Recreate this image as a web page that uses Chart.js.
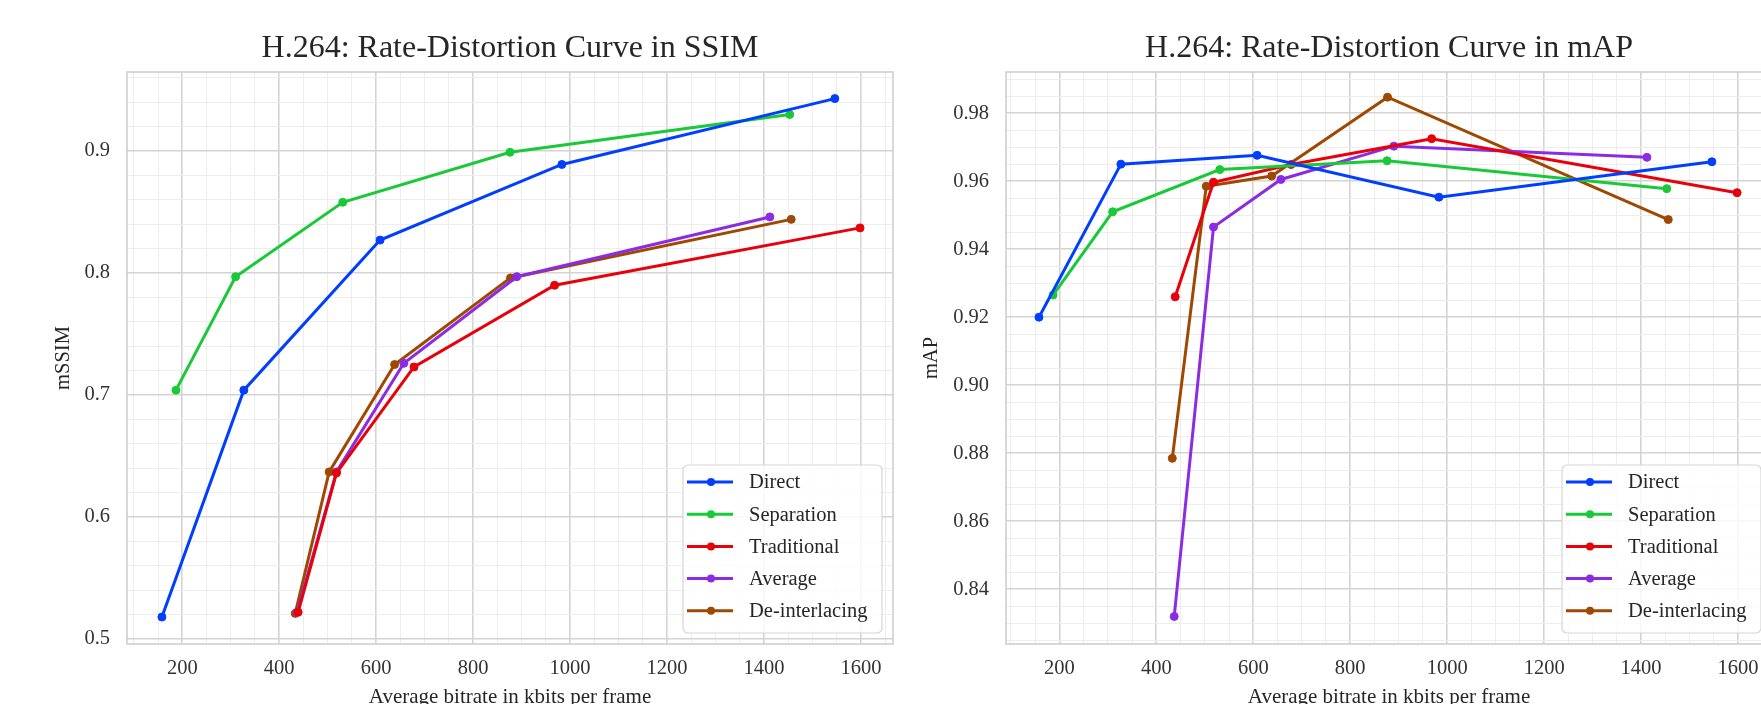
<!DOCTYPE html>
<html>
<head>
<meta charset="utf-8">
<title>H.264 rate-distortion curves</title>
<script src="https://cdn.jsdelivr.net/npm/chart.js@4/dist/chart.umd.min.js"></script>
<style>
  html, body { margin: 0; padding: 0; background: #ffffff; width: 1761px; height: 704px; overflow: hidden; }
  .panel { position: absolute; top: 0; height: 704px; }
  #leftPanel { left: 0; width: 900px; }
  #rightPanel { left: 900px; width: 880px; }
</style>
</head>
<body>
<div class="panel" id="leftPanel"><canvas id="ssimChart"></canvas></div>
<div class="panel" id="rightPanel"><canvas id="mapChart"></canvas></div>
<script>
// ---- data: average bitrate (kbits per frame) and quality per method ----
const methodNames = ['Direct', 'Separation', 'Traditional', 'Average', 'De-interlacing'];
const methodColors = ['#023eff', '#1ac938', '#e8000b', '#8b2be2', '#9f4800'];

const directRate      = [158, 327, 608, 983, 1546];
const directSSIM      = [0.518, 0.704, 0.827, 0.889, 0.943];
const directMAP       = [0.920, 0.965, 0.9676, 0.9553, 0.9657];

const separationRate  = [187, 310, 531, 876, 1453];
const separationSSIM  = [0.704, 0.797, 0.858, 0.899, 0.930];
const separationMAP   = [0.9265, 0.951, 0.9634, 0.966, 0.9578];

const traditionalRate = [439, 518, 678, 968, 1598];
const traditionalSSIM = [0.522, 0.636, 0.723, 0.790, 0.837];
const traditionalMAP  = [0.926, 0.9597, 0.9649, 0.9725, 0.9566];

const averageRate     = [437, 518, 657, 890, 1412];
const averageSSIM     = [0.522, 0.637, 0.726, 0.797, 0.846];
const averageMAP      = [0.832, 0.9465, 0.9605, 0.9703, 0.967];

const deinterlaceRate = [433, 503, 638, 877, 1456];
const deinterlaceSSIM = [0.521, 0.637, 0.725, 0.796, 0.844];
const deinterlaceMAP  = [0.8785, 0.9585, 0.9615, 0.9847, 0.9487];

// ---- tick labels ----
const bitrateTicks = [200, 400, 600, 800, 1000, 1200, 1400, 1600];
const ssimTicks = [0.5, 0.6, 0.7, 0.8, 0.9];
const mapTicks = [0.84, 0.86, 0.88, 0.90, 0.92, 0.94, 0.96, 0.98];

const rates = [directRate, separationRate, traditionalRate, averageRate, deinterlaceRate];
const ssims = [directSSIM, separationSSIM, traditionalSSIM, averageSSIM, deinterlaceSSIM];
const maps  = [directMAP, separationMAP, traditionalMAP, averageMAP, deinterlaceMAP];

// ---- styling ----
const SERIF = "'Liberation Serif', 'Times New Roman', serif";
const TEXT = '#262626';
const GRID_MAJOR = '#d4d4d4';
const GRID_MINOR = '#ededed';

function pairs(xs, ys) {
  return xs.map((x, i) => ({ x: x, y: ys[i] }));
}

function buildDatasets(values) {
  return methodNames.map((name, i) => ({
    label: name,
    data: pairs(rates[i], values[i]),
    borderColor: methodColors[i],
    backgroundColor: methodColors[i],
    pointBackgroundColor: methodColors[i],
    pointBorderColor: methodColors[i],
    borderWidth: 3,
    pointRadius: 4,
    pointBorderWidth: 1,
    tension: 0,
    fill: false
  }));
}

// grid positions: every minor step inside the axis range
function gridValues(min, max, step) {
  const out = [];
  for (let k = Math.ceil(min / step - 1e-9); k * step <= max + 1e-9; k++) {
    out.push(+(k * step).toFixed(6));
  }
  return out;
}

function axis(cfg) {
  const lines = gridValues(cfg.min, cfg.max, cfg.minorStep);
  const isMajor = v => cfg.majors.some(m => Math.abs(m - v) < 1e-7);
  return {
    type: 'linear',
    position: cfg.position,
    min: cfg.min,
    max: cfg.max,
    afterBuildTicks: s => { s.ticks = lines.map(v => ({ value: v })); },
    afterFit: s => {
      if (s.isHorizontal()) s.height = cfg.size; else s.width = cfg.size;
    },
    ticks: {
      autoSkip: false,
      maxRotation: 0,
      minRotation: 0,
      padding: cfg.tickPad,
      color: '#333333',
      font: { family: SERIF, size: 20.5 },
      callback: v => isMajor(v) ? v.toFixed(cfg.digits) : ''
    },
    grid: {
      drawTicks: false,
      color: c => (c.tick && isMajor(c.tick.value)) ? GRID_MAJOR : GRID_MINOR,
      lineWidth: c => (c.tick && isMajor(c.tick.value)) ? 1.6 : 1
    },
    border: { display: false },
    title: {
      display: true,
      text: cfg.title,
      color: TEXT,
      font: { family: SERIF, size: cfg.titleSize },
      padding: cfg.titlePad
    }
  };
}

// light frame around the plotting area
const plotFrame = {
  id: 'plotFrame',
  beforeDatasetsDraw(chart) {
    const a = chart.chartArea;
    const ctx = chart.ctx;
    ctx.save();
    ctx.strokeStyle = '#cfcfcf';
    ctx.lineWidth = 1.6;
    ctx.strokeRect(a.left, a.top, a.right - a.left, a.bottom - a.top);
    ctx.restore();
  }
};

// legend drawn inside the lower-right corner of the plotting area
const insetLegend = {
  id: 'insetLegend',
  afterDatasetsDraw(chart) {
    const a = chart.chartArea;
    const ctx = chart.ctx;
    const w = 199, h = 168, r = 5;
    const x = a.right - 11 - w;
    const y = a.bottom - 11 - h;
    ctx.save();
    ctx.beginPath();
    ctx.moveTo(x + r, y);
    ctx.arcTo(x + w, y, x + w, y + h, r);
    ctx.arcTo(x + w, y + h, x, y + h, r);
    ctx.arcTo(x, y + h, x, y, r);
    ctx.arcTo(x, y, x + w, y, r);
    ctx.closePath();
    ctx.fillStyle = 'rgba(255,255,255,0.8)';
    ctx.fill();
    ctx.strokeStyle = '#d6d6d6';
    ctx.lineWidth = 1.2;
    ctx.stroke();

    ctx.font = '20.5px ' + SERIF;
    ctx.textBaseline = 'middle';
    ctx.textAlign = 'left';
    chart.data.datasets.forEach((ds, i) => {
      const cy = y + 17 + i * 32.2;
      ctx.strokeStyle = ds.borderColor;
      ctx.lineWidth = 3;
      ctx.beginPath();
      ctx.moveTo(x + 4, cy);
      ctx.lineTo(x + 50, cy);
      ctx.stroke();
      ctx.fillStyle = ds.borderColor;
      ctx.beginPath();
      ctx.arc(x + 28, cy, 4, 0, Math.PI * 2);
      ctx.fill();
      ctx.fillStyle = TEXT;
      ctx.fillText(ds.label, x + 66, cy + 1);
    });
    ctx.restore();
  }
};

function makeChart(canvasId, opts) {
  return new Chart(document.getElementById(canvasId), {
    type: 'line',
    data: { datasets: buildDatasets(opts.values) },
    options: {
      responsive: true,
      maintainAspectRatio: false,
      animation: false,
      layout: { padding: { left: 0, right: opts.rightPad, top: 0, bottom: 0 } },
      plugins: {
        legend: { display: false },
        tooltip: { enabled: false },
        title: {
          display: true,
          text: opts.title,
          fullSize: false,
          align: 'center',
          color: TEXT,
          font: { family: SERIF, size: 32, weight: 'normal' },
          padding: { top: 29, bottom: 4.6 }
        }
      },
      scales: {
        x: axis({
          position: 'bottom',
          min: opts.xMin, max: opts.xMax,
          majors: bitrateTicks, minorStep: 50, digits: 0,
          size: 60, tickPad: 12.7,
          title: 'Average bitrate in kbits per frame', titleSize: 21,
          titlePad: { top: 0, bottom: -6 }
        }),
        y: axis({
          position: 'left',
          min: opts.yMin, max: opts.yMax,
          majors: opts.yTicks, minorStep: opts.yMinorStep, digits: opts.yDigits,
          size: opts.yAxisWidth, tickPad: 17,
          title: opts.yTitle, titleSize: 20.5,
          titlePad: { top: opts.yTitlePad, bottom: 0 }
        })
      }
    },
    plugins: [plotFrame, insetLegend]
  });
}

makeChart('ssimChart', {
  values: ssims,
  title: 'H.264: Rate-Distortion Curve in SSIM',
  yTitle: 'mSSIM',
  xMin: 86, xMax: 1666,
  yMin: 0.4959, yMax: 0.9648,
  yTicks: ssimTicks, yMinorStep: 0.02, yDigits: 1,
  yAxisWidth: 127, yTitlePad: 51.7,
  rightPad: 7
});

makeChart('mapChart', {
  values: maps,
  title: 'H.264: Rate-Distortion Curve in mAP',
  yTitle: 'mAP',
  xMin: 90, xMax: 1670,
  yMin: 0.8239, yMax: 0.9921,
  yTicks: mapTicks, yMinorStep: 0.005, yDigits: 2,
  yAxisWidth: 106, yTitlePad: 19.7,
  rightPad: 8
});
</script>
</body>
</html>
